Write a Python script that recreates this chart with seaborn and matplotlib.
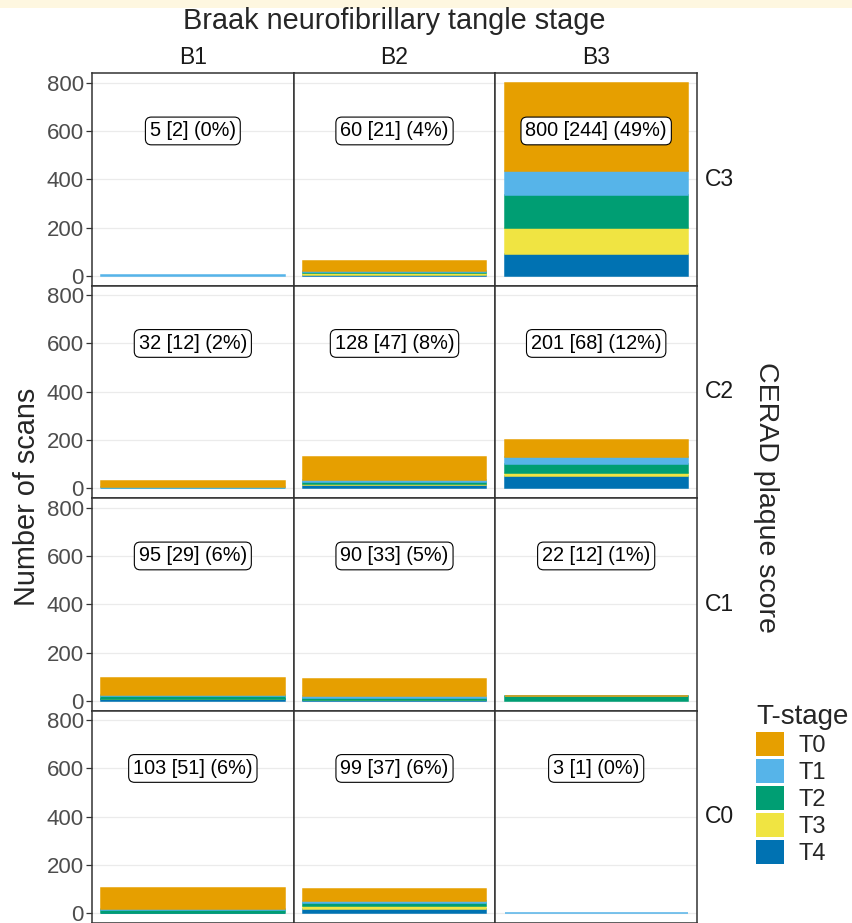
import numpy as np
import pandas as pd
import matplotlib
matplotlib.use('Agg')
import matplotlib.pyplot as plt
from matplotlib.patches import Patch, Rectangle
import seaborn as sns

# facet levels
row_levels = ['C3', 'C2', 'C1', 'C0']   # CERAD plaque score (rows)
col_levels = ['B1', 'B2', 'B3']         # Braak stage (columns)
stages = ['T0', 'T1', 'T2', 'T3', 'T4']
stage_colors = ['#E69F00', '#56B4E9', '#009E73', '#F0E442', '#0072B2']

# scans per T-stage, rows C3..C0, cols B1..B3
t0 = [[0, 38, 367], [28, 93, 70], [71, 72, 3], [83, 48, 0]]
t1 = [[5, 6, 99], [2, 10, 30], [6, 6, 1], [6, 10, 3]]
t2 = [[0, 4, 136], [2, 7, 37], [10, 8, 18], [12, 10, 0]]
t3 = [[0, 7, 107], [0, 6, 14], [2, 2, 0], [0, 13, 0]]
t4 = [[0, 5, 91], [0, 12, 50], [6, 2, 0], [2, 18, 0]]

cell_labels = [
    ['5 [2] (0%)', '60 [21] (4%)', '800 [244] (49%)'],
    ['32 [12] (2%)', '128 [47] (8%)', '201 [68] (12%)'],
    ['95 [29] (6%)', '90 [33] (5%)', '22 [12] (1%)'],
    ['103 [51] (6%)', '99 [37] (6%)', '3 [1] (0%)'],
]
y_ticks = [0, 200, 400, 600, 800]

recs = []
for s, vals in zip(stages, [t0, t1, t2, t3, t4]):
    for i, c in enumerate(row_levels):
        for j, b in enumerate(col_levels):
            recs.append({'cerad': c, 'braak': b, 'stage': s, 'n': vals[i][j], 'x': 0})
df = pd.DataFrame(recs)

sns.set_theme(style='white')
plt.rcParams['font.family'] = ['Liberation Sans', 'DejaVu Sans']

W, H = 852, 923
fig, axes = plt.subplots(4, 3, figsize=(W / 100, H / 100), dpi=100, sharex=True, sharey=True)
L, R, T, B = 92, 697, 73, 923
fig.subplots_adjust(left=L / W, right=R / W, top=1 - T / H, bottom=1 - B / H, wspace=0, hspace=0)

for i, c in enumerate(row_levels):
    for j, b in enumerate(col_levels):
        ax = axes[i, j]
        sub = df[(df.cerad == c) & (df.braak == b)]
        sns.histplot(data=sub, x='x', weights='n', hue='stage', hue_order=stages,
                     palette=stage_colors, multiple='stack', discrete=True, shrink=1,
                     linewidth=0, alpha=1, legend=False, ax=ax)
        # give thin segments a visible outline in their own colour, hide empty ones
        for p in ax.patches:
            if p.get_height() <= 0:
                p.set_visible(False)
            else:
                p.set_edgecolor(p.get_facecolor())
                p.set_linewidth(1.1)
        ax.set_xlim(-0.55, 0.55)
        ax.set_ylim(-40, 840)
        ax.set_yticks(y_ticks)
        ax.set_xlabel('')
        ax.set_ylabel('')
        ax.yaxis.grid(True, color='#EBEBEB', lw=0.9)
        ax.set_axisbelow(True)
        for sp in ax.spines.values():
            sp.set_color('#333333')
            sp.set_linewidth(1.1)
        ax.tick_params(axis='y', left=(j == 0), labelleft=(j == 0), length=4, width=0.9,
                       color='#333333', labelcolor='#4D4D4D', labelsize=16, pad=2)
        ax.tick_params(axis='x', bottom=False, labelbottom=False)
        ax.text(0, 600, cell_labels[i][j], ha='center', va='center', fontsize=14.3, color='black',
                bbox=dict(boxstyle='round,pad=0.22,rounding_size=0.3', fc='white', ec='black', lw=0.8))

# strip labels
col_w = (R - L) / 3
row_h = (B - T) / 4
for j, b in enumerate(col_levels):
    fig.text((L + col_w * (j + 0.5)) / W, 1 - 57 / H, b, ha='center', va='center',
             fontsize=16.5, color='#1A1A1A')
for i, c in enumerate(row_levels):
    fig.text(719 / W, 1 - (T + row_h * (i + 0.5)) / H, c, ha='center', va='center',
             fontsize=16.5, color='#1A1A1A')

fig.text((L + R) / 2 / W, 1 - 21 / H, 'Braak neurofibrillary tangle stage',
         ha='center', va='center', fontsize=20.8)
fig.text(27 / W, 1 - 497 / H, 'Number of scans', rotation=90, ha='center', va='center', fontsize=20.8)
fig.text(766 / W, 1 - 497 / H, 'CERAD plaque score', rotation=-90, ha='center', va='center', fontsize=20.5)

handles = [Patch(facecolor=col, edgecolor='none', label=s) for s, col in zip(stages, stage_colors)]
leg = fig.legend(handles=handles, title='T-stage', loc='upper left',
                 bbox_to_anchor=(756 / W, 1 - 704 / H), frameon=False, fontsize=17,
                 title_fontsize=20, handlelength=1.2, handleheight=1.2,
                 handletextpad=0.6, labelspacing=0.08, borderaxespad=0, borderpad=0,
                 alignment='left')

# cream strip along the top edge
fig.patches.append(Rectangle((0, 1 - 8 / H), 1, 8 / H, transform=fig.transFigure,
                             facecolor='#FEF7E0', edgecolor='none', zorder=0))

fig.savefig('out.png', dpi=100)
